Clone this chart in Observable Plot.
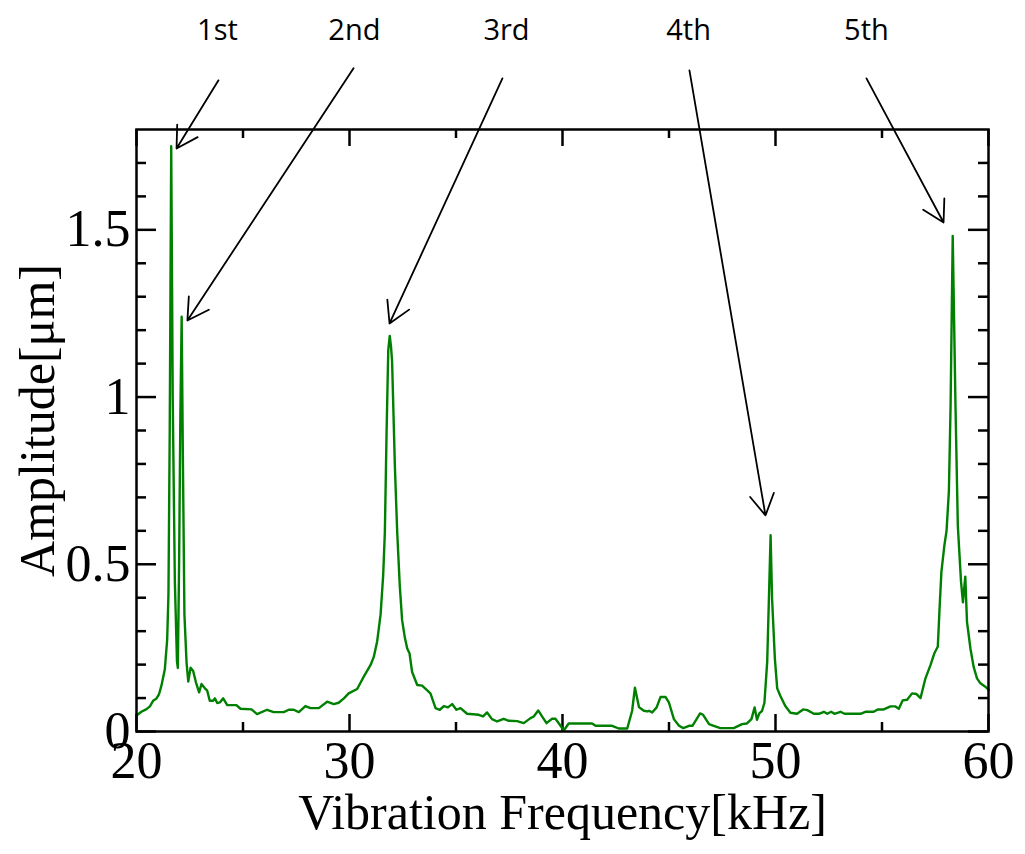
<!DOCTYPE html>
<html>
<head>
<meta charset="utf-8">
<script src="https://cdn.jsdelivr.net/npm/d3@7"></script>
<script src="https://cdn.jsdelivr.net/npm/@observablehq/plot@0.6"></script>
<style>
  html, body { margin: 0; padding: 0; background: #ffffff; }
  #chart { width: 1025px; height: 854px; }
</style>
</head>
<body>
<div id="chart"></div>
<script>
// ---- Data ----
const frequencyKHz = [
  20.0, 20.23, 20.47, 20.63, 20.78, 20.94, 21.06, 21.17, 21.33, 21.44,
  21.5, 21.56, 21.63, 21.7, 21.8, 21.9, 21.94, 22.0, 22.06, 22.12,
  22.18, 22.25, 22.35, 22.43, 22.54, 22.66, 22.79, 22.94, 23.05, 23.21,
  23.32, 23.44, 23.6, 23.68, 23.79, 23.91, 24.07, 24.26, 24.46, 24.69,
  24.88, 25.4, 25.66, 26.13, 26.44, 26.91, 27.15, 27.38, 27.62, 27.93,
  28.17, 28.56, 28.95, 29.26, 29.49, 29.75, 29.96, 30.36, 30.67, 30.99,
  31.14, 31.3, 31.46, 31.58, 31.66, 31.74, 31.82, 31.89, 31.95, 32.0,
  32.13, 32.24, 32.36, 32.47, 32.6, 32.71, 32.82, 32.94, 33.18, 33.41,
  33.8, 34.04, 34.24, 34.43, 34.62, 34.82, 35.02, 35.21, 35.52, 36.07,
  36.27, 36.46, 36.69, 36.93, 37.24, 37.48, 37.87, 38.18, 38.5, 38.65,
  38.86, 39.04, 39.25, 39.51, 39.67, 39.9, 40.06, 40.29, 41.39, 41.55,
  42.33, 42.64, 43.04, 43.27, 43.4, 43.59, 43.82, 43.98, 44.06, 44.21,
  44.42, 44.6, 44.84, 45.0, 45.23, 45.47, 45.67, 45.94, 46.1, 46.46,
  46.6, 46.88, 47.1, 47.41, 48.04, 48.43, 48.66, 48.87, 49.02, 49.13,
  49.24, 49.37, 49.48, 49.61, 49.69, 49.77, 49.84, 49.97, 50.08, 50.23,
  50.46, 50.7, 51.01, 51.3, 51.49, 51.8, 52.04, 52.27, 52.43, 52.61,
  52.77, 53.05, 53.24, 53.99, 54.22, 54.61, 54.8, 55.08, 55.4, 55.63,
  55.79, 55.97, 56.18, 56.41, 56.62, 56.81, 57.04, 57.28, 57.46, 57.62,
  57.71, 57.79, 57.93, 58.03, 58.14, 58.22, 58.32, 58.45, 58.56, 58.71,
  58.8, 58.91, 58.99, 59.15, 59.3, 59.46, 59.62, 59.85, 60.0
];
const amplitudeUm = [
  0.048, 0.059, 0.067, 0.075, 0.092, 0.099, 0.112, 0.137, 0.186, 0.275,
  0.41, 0.9, 1.75, 1.0, 0.45, 0.21, 0.19, 0.5, 0.95, 1.24,
  0.8, 0.35, 0.206, 0.149, 0.191, 0.181, 0.147, 0.117, 0.142, 0.129,
  0.122, 0.092, 0.092, 0.099, 0.085, 0.087, 0.099, 0.079, 0.079, 0.079,
  0.068, 0.066, 0.052, 0.065, 0.058, 0.058, 0.065, 0.065, 0.058, 0.076,
  0.07, 0.07, 0.089, 0.082, 0.086, 0.1, 0.114, 0.127, 0.164, 0.199,
  0.223, 0.27, 0.35, 0.466, 0.596, 0.893, 1.141, 1.183, 1.15, 1.106,
  0.794, 0.596, 0.436, 0.333, 0.28, 0.248, 0.233, 0.178, 0.139, 0.137,
  0.114, 0.07, 0.065, 0.076, 0.072, 0.082, 0.065, 0.07, 0.053, 0.05,
  0.045, 0.057, 0.037, 0.03, 0.038, 0.032, 0.031, 0.025, 0.04, 0.045,
  0.063, 0.045, 0.025, 0.038, 0.038, 0.018, 0.003, 0.024, 0.024, 0.017,
  0.017, 0.009, 0.009, 0.062, 0.131, 0.073, 0.062, 0.06, 0.062, 0.057,
  0.072, 0.103, 0.103, 0.086, 0.037, 0.017, 0.01, 0.017, 0.017, 0.054,
  0.05, 0.022, 0.017, 0.01, 0.01, 0.022, 0.024, 0.037, 0.072, 0.035,
  0.054, 0.062, 0.086, 0.208, 0.396, 0.587, 0.396, 0.218, 0.129, 0.106,
  0.076, 0.056, 0.053, 0.066, 0.064, 0.053, 0.053, 0.059, 0.053, 0.059,
  0.053, 0.059, 0.053, 0.053, 0.059, 0.059, 0.066, 0.066, 0.075, 0.075,
  0.068, 0.093, 0.095, 0.114, 0.112, 0.1, 0.159, 0.199, 0.234, 0.254,
  0.378, 0.478, 0.557, 0.6, 0.718, 0.974, 1.482, 0.974, 0.615, 0.448,
  0.386, 0.463, 0.328, 0.249, 0.194, 0.159, 0.144, 0.134, 0.125
];

// Axis ticks
const xMajorTicks = [20, 30, 40, 50, 60];
const xMinorTicks = [25, 35, 45, 55];
const yMajorTicks = [0, 0.5, 1, 1.5];
const yMinorTicks = [0.1, 0.2, 0.3, 0.4, 0.6, 0.7, 0.8, 0.9, 1.1, 1.2, 1.3, 1.4, 1.6, 1.7];

// Peak annotations (label position and arrow tail/tip, in data units)
const peakLabels = ["1st", "2nd", "3rd", "4th", "5th"];
const labelFreq = [23.8, 30.23, 37.37, 45.92, 54.27];
const labelAmp = [2.096, 2.096, 2.096, 2.096, 2.096];
const arrowTailFreq = [23.85, 30.19, 37.18, 45.96, 54.27];
const arrowTailAmp = [1.947, 1.983, 1.953, 1.977, 1.953];
const arrowTipFreq = [21.88, 22.39, 31.88, 49.53, 57.89];
const arrowTipAmp = [1.743, 1.229, 1.22, 0.646, 1.522];

const xLabel = "Vibration Frequency[kHz]";
const yLabel = "Amplitude[μm]";

// ---- Build tables ----
const series = frequencyKHz.map((f, i) => ({f, a: amplitudeUm[i]}));
const annotations = peakLabels.map((t, i) => ({
  t, lx: labelFreq[i], ly: labelAmp[i],
  x1: arrowTailFreq[i], y1: arrowTailAmp[i], x2: arrowTipFreq[i], y2: arrowTipAmp[i]
}));

// ---- Layout ----
const W = 1025, H = 854;
const mL = 136, mR = 37, mT = 129, mB = 123;
const frameW = W - mL - mR, frameH = H - mT - mB;
const serif = "'Liberation Serif', 'Times New Roman', serif";

const plot = Plot.plot({
  width: W,
  height: H,
  marginLeft: mL,
  marginRight: mR,
  marginTop: mT,
  marginBottom: mB,
  style: {fontFamily: serif, background: "#ffffff", color: "#000000", overflow: "visible"},
  x: {domain: [20, 60]},
  y: {domain: [0, 1.8]},
  marks: [
    // inward ticks - bottom & top
    Plot.tickX(xMajorTicks, {x: d => d, insetTop: frameH - 17, stroke: "#000", strokeWidth: 2.5}),
    Plot.tickX(xMinorTicks, {x: d => d, insetTop: frameH - 9, stroke: "#000", strokeWidth: 2.5}),
    Plot.tickX(xMajorTicks, {x: d => d, insetBottom: frameH - 17, stroke: "#000", strokeWidth: 2.5}),
    Plot.tickX(xMinorTicks, {x: d => d, insetBottom: frameH - 9, stroke: "#000", strokeWidth: 2.5}),
    // inward ticks - left & right
    Plot.tickY(yMajorTicks, {y: d => d, insetRight: frameW - 20, stroke: "#000", strokeWidth: 2.5}),
    Plot.tickY(yMinorTicks, {y: d => d, insetRight: frameW - 10, stroke: "#000", strokeWidth: 2.5}),
    Plot.tickY(yMajorTicks, {y: d => d, insetLeft: frameW - 20, stroke: "#000", strokeWidth: 2.5}),
    Plot.tickY(yMinorTicks, {y: d => d, insetLeft: frameW - 10, stroke: "#000", strokeWidth: 2.5}),
    // tick labels
    Plot.axisX(xMajorTicks, {tickSize: 0, tickPadding: 10, fontSize: 52, fontFamily: serif, label: null, tickFormat: d => String(d)}),
    Plot.axisY(yMajorTicks, {tickSize: 0, tickPadding: 6, fontSize: 52, fontFamily: serif, label: null, tickFormat: d => String(d)}),
    // data line
    Plot.line(series, {x: "f", y: "a", stroke: "#008000", strokeWidth: 2.4, curve: "linear"}),
    // frame
    Plot.frame({stroke: "#000", strokeWidth: 2.5}),
    // axis titles
    Plot.text([xLabel], {text: d => d, frameAnchor: "bottom", dy: 81, fontSize: 50, fontFamily: serif, textAnchor: "middle", lineAnchor: "middle", fill: "#000"}),
    Plot.text([yLabel], {text: d => d, frameAnchor: "left", dx: -99, dy: -10, rotate: -90, fontSize: 50, fontFamily: serif, textAnchor: "middle", lineAnchor: "middle", fill: "#000"}),
    // peak annotations
    Plot.arrow(annotations, {x1: "x1", y1: "y1", x2: "x2", y2: "y2", stroke: "#000", strokeWidth: 1.8, headLength: 20, headAngle: 60}),
    Plot.text(annotations, {x: "lx", y: "ly", text: "t", fontSize: 29, fontFamily: "'Open Sans', 'Noto Sans', sans-serif", fill: "#000", lineAnchor: "middle"})
  ]
});

document.getElementById("chart").appendChild(plot);
</script>
</body>
</html>
